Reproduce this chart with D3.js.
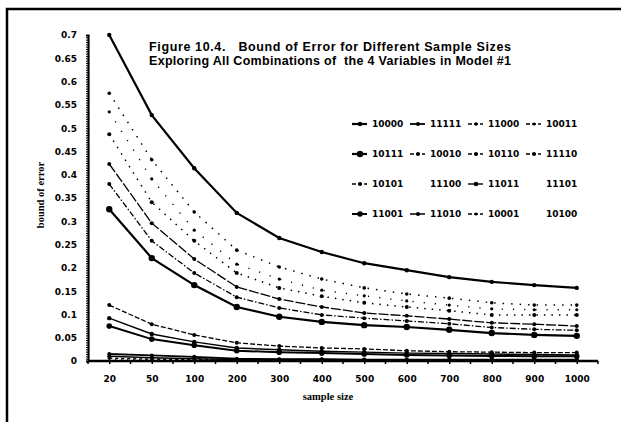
<!DOCTYPE html>
<html>
<head>
<meta charset="utf-8">
<script src="https://cdn.jsdelivr.net/npm/d3@7"></script>
<style>
  body { margin: 0; background: #fff; }
  svg { display: block; }
  .tick text { font-family: "DejaVu Sans", sans-serif; font-weight: bold; font-size: 9px; fill: #000; }
</style>
</head>
<body>
<svg id="chart" width="621" height="422"></svg>
<script>
// sample sizes (x categories)
const sizes = ['20','50','100','200','300','400','500','600','700','800','900','1000']
const yTicks = [0,0.05,0.1,0.15,0.2,0.25,0.3,0.35,0.4,0.45,0.5,0.55,0.6,0.65,0.7]
const titleLines = ['Figure 10.4.   Bound of Error for Different Sample Sizes',
                    'Exploring All Combinations of  the 4 Variables in Model #1']

// one array per model
const s10000 = [0.700,0.528,0.414,0.318,0.264,0.234,0.210,0.195,0.180,0.170,0.163,0.157]
const s11111 = [0.015,0.012,0.009,0.005,0.004,0.004,0.003,0.003,0.003,0.003,0.003,0.003]
const s11000 = [0.575,0.432,0.320,0.238,0.202,0.176,0.157,0.144,0.135,0.125,0.120,0.120]
const s10011 = [0.535,0.391,0.281,0.208,0.176,0.152,0.140,0.129,0.120,0.112,0.110,0.110]
const s10111 = [0.326,0.221,0.163,0.116,0.095,0.084,0.077,0.073,0.067,0.060,0.056,0.054]
const s10010 = [0.120,0.079,0.056,0.039,0.032,0.028,0.026,0.022,0.020,0.019,0.018,0.018]
const s10110 = [0.380,0.258,0.189,0.137,0.114,0.099,0.092,0.086,0.080,0.072,0.068,0.066]
const s11110 = [0.423,0.296,0.219,0.159,0.133,0.116,0.103,0.097,0.090,0.082,0.079,0.075]
const s10101 = [0.487,0.341,0.258,0.189,0.157,0.139,0.125,0.116,0.108,0.099,0.099,0.099]
const s11100 = [0.004,0.003,0.002,0.002,0.001,0.001,0.001,0.001,0.001,0.001,0.001,0.001]
const s11011 = [0.092,0.058,0.041,0.028,0.024,0.021,0.019,0.017,0.016,0.015,0.014,0.013]
const s11101 = [0.003,0.002,0.002,0.001,0.001,0.001,0.001,0.001,0.001,0.001,0.001,0.001]
const s11001 = [0.075,0.047,0.034,0.022,0.019,0.017,0.015,0.013,0.012,0.011,0.010,0.010]
const s11010 = [0.010,0.007,0.005,0.003,0.003,0.003,0.002,0.002,0.002,0.002,0.002,0.002]
const s10001 = [0.006,0.004,0.003,0.002,0.002,0.002,0.002,0.001,0.001,0.001,0.001,0.001]
const s10100 = [0.002,0.002,0.001,0.001,0.001,0.001,0.001,0.001,0.001,0.001,0.001,0.001]

// legend order (row by row)
const series = [
  {name:'10000',values:s10000},{name:'11111',values:s11111},{name:'11000',values:s11000},{name:'10011',values:s10011},
  {name:'10111',values:s10111},{name:'10010',values:s10010},{name:'10110',values:s10110},{name:'11110',values:s11110},
  {name:'10101',values:s10101},{name:'11100',values:s11100},{name:'11011',values:s11011},{name:'11101',values:s11101},
  {name:'11001',values:s11001},{name:'11010',values:s11010},{name:'10001',values:s10001},{name:'10100',values:s10100}
]

// line look per model: dash, width, marker radius (0 = none)
const styles = {
  '10000':{dash:null,w:2.2,r:2.2}, '11111':{dash:null,w:1.8,r:2},
  '11000':{dash:'1.5,7',w:1.5,r:1.8}, '10011':{dash:'1.2,10',w:1.4,r:1.6},
  '10111':{dash:null,w:2.2,r:3.2}, '10010':{dash:'5,2',w:1.3,r:2},
  '10110':{dash:'6,2,1.5,2',w:1.3,r:2}, '11110':{dash:'10,2',w:1.3,r:2},
  '10101':{dash:'1.5,6',w:1.5,r:2}, '11100':{dash:'1,5',w:0.8,r:0},
  '11011':{dash:null,w:1.4,r:2.2}, '11101':{dash:'1,5',w:0.8,r:0},
  '11001':{dash:null,w:2,r:2.8}, '11010':{dash:null,w:1.5,r:2},
  '10001':{dash:'3,3',w:1.3,r:1.5}, '10100':{dash:'1,5',w:0.8,r:0}
}

const svg = d3.select('#chart')
const x = d3.scalePoint().domain(sizes).range([88,598]).padding(0.5)
const y = d3.scaleLinear().domain([0,0.7]).range([361,35])

// outer frame, cut off at right and bottom
svg.append('rect').attr('x',7).attr('y',9).attr('width',700).attr('height',500)
  .attr('fill','none').attr('stroke','#000').attr('stroke-width',2.5)

// y axis with fine ticks
const yMinor = d3.range(0,0.7001,0.005)
svg.append('g').attr('transform','translate(88,0)')
  .call(d3.axisLeft(y).tickValues(yMinor).tickSize(2).tickFormat(''))
  .call(g=>g.select('.domain').attr('stroke-width',2))
svg.append('g').attr('transform','translate(88,0)')
  .call(d3.axisRight(y).tickValues(yMinor).tickSize(1.5).tickFormat(''))
  .call(g=>g.select('.domain').remove())
svg.append('g').attr('transform','translate(88,0)')
  .call(d3.axisLeft(y).tickValues(yTicks).tickSize(0).tickPadding(11).tickFormat(d=>String(+d.toFixed(2))))
  .call(g=>g.select('.domain').remove())

// x axis
const xa = svg.append('g').attr('transform','translate(0,361)')
  .call(d3.axisBottom(x).tickSize(3).tickPadding(12))
xa.select('.domain').attr('d','M88,0H598').attr('stroke-width',2.5)
xa.selectAll('.tick line').attr('stroke-width',1.5)
xa.selectAll('.edge').data(d3.range(13)).join('line').attr('class','edge')
  .attr('x1',i=>88+i*x.step()).attr('x2',i=>88+i*x.step())
  .attr('y1',0).attr('y2',3).attr('stroke','#000').attr('stroke-width',1.5)

// axis titles
svg.append('text').attr('x',328).attr('y',400).attr('text-anchor','middle')
  .attr('font-family','Liberation Serif, serif').attr('font-weight','bold').attr('font-size',10.5)
  .text('sample size')
svg.append('text').attr('transform','translate(44,195) rotate(-90)').attr('text-anchor','middle')
  .attr('font-family','Liberation Serif, serif').attr('font-weight','bold').attr('font-size',10.5)
  .text('bound of error')

// title
svg.append('g').selectAll('text').data(titleLines).join('text')
  .attr('x',149).attr('y',(d,i)=>51+i*14)
  .attr('font-family','Liberation Sans, Arial, sans-serif').attr('font-weight','bold').attr('font-size',12.5)
  .attr('textLength',362).attr('lengthAdjust','spacing').style('white-space','pre')
  .text(d=>d)

// series lines and markers
const line = d3.line().x((d,i)=>x(sizes[i])).y(d=>y(d))
const gS = svg.append('g').selectAll('g').data(series).join('g')
gS.append('path').attr('d',d=>line(d.values)).attr('fill','none').attr('stroke','#000')
  .attr('stroke-width',d=>styles[d.name].w).attr('stroke-dasharray',d=>styles[d.name].dash)
gS.selectAll('circle').data(d=>d.values.map(v=>({v,r:styles[d.name].r}))).join('circle')
  .attr('cx',(d,i)=>x(sizes[i])).attr('cy',d=>y(d.v)).attr('r',d=>d.r).attr('fill','#000')

// legend 4x4
const colX = [352,410,468,526], rowY = [124,154,184,214]
const lg = svg.append('g').selectAll('g').data(series).join('g')
  .attr('transform',(d,i)=>`translate(${colX[i%4]},${rowY[Math.floor(i/4)]})`)
lg.filter(d=>styles[d.name].r>0).append('line').attr('x1',0).attr('x2',15).attr('stroke','#000')
  .attr('stroke-width',d=>styles[d.name].w).attr('stroke-dasharray',d=>styles[d.name].dash?'4,2':null)
lg.filter(d=>styles[d.name].r>0).append('circle').attr('cx',8).attr('r',d=>styles[d.name].r).attr('fill','#000')
lg.append('text').attr('x',20).attr('dy','0.35em')
  .attr('font-family','DejaVu Sans, sans-serif').attr('font-weight','bold').attr('font-size',9)
  .text(d=>d.name)
</script>
</body>
</html>
